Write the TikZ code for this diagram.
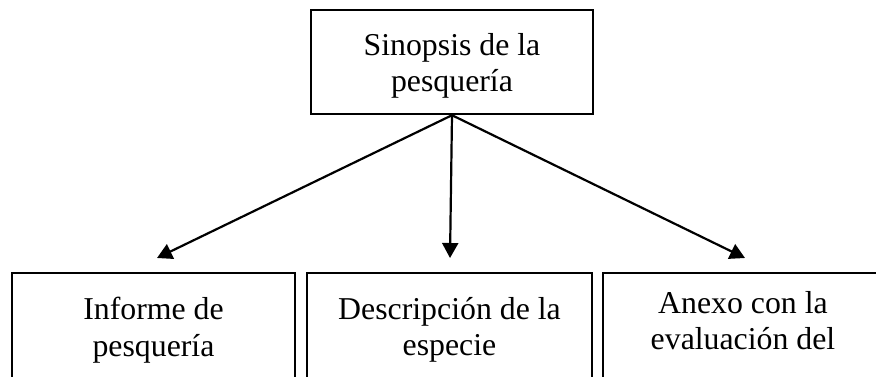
\documentclass[tikz,border=0pt]{standalone}
\usepackage{fontspec}
\setmainfont{Liberation Serif}
\usetikzlibrary{arrows.meta}

\tikzset{
	box/.style={shape=rectangle, draw, line width=2.4pt, inner sep=0},
	boxtext/.style={anchor=center, inner sep=0, align=center, font=\fontsize{31.8}{36.5}\selectfont},
	link/.style={line width=2.2pt, -{Triangle[length=15pt, width=16pt]}}
}

\begin{document}
\begin{tikzpicture}[x=1pt, y=-1pt]
	% Boxes, texts and arrows:
	\useasboundingbox (0, 0) rectangle (876, 376);
	\clip (0, 0) rectangle (876, 376);
	\node[box, minimum width=282pt, minimum height=104pt](Rect1) at (452, 62){} node[boxtext] (Text1) at (452, 66){Sinopsis de la\\pesquería};
	\node[box, minimum width=283pt, minimum height=140pt](Rect2) at (153.5, 343){} node[boxtext] (Text2) at (153.5, 330){Informe de\\pesquería};
	\node[box, minimum width=285pt, minimum height=140pt](Rect3) at (449.5, 343){} node[boxtext] (Text3) at (449.5, 330){Descripción de la\\especie};
	\node[box, minimum width=276pt, minimum height=140pt](Rect4) at (741, 343){} node[boxtext] (Text4) at (743, 320.5){Anexo con la\\evaluación del};
	\coordinate (Tip2) at (157, 258);
	\coordinate (Tip3) at (450, 258);
	\coordinate (Tip4) at (745, 258);
	\draw[link] (Rect1.south) -- (Tip2);
	\draw[link] (Rect1.south) -- (Tip3);
	\draw[link] (Rect1.south) -- (Tip4);
\end{tikzpicture}
\end{document}
